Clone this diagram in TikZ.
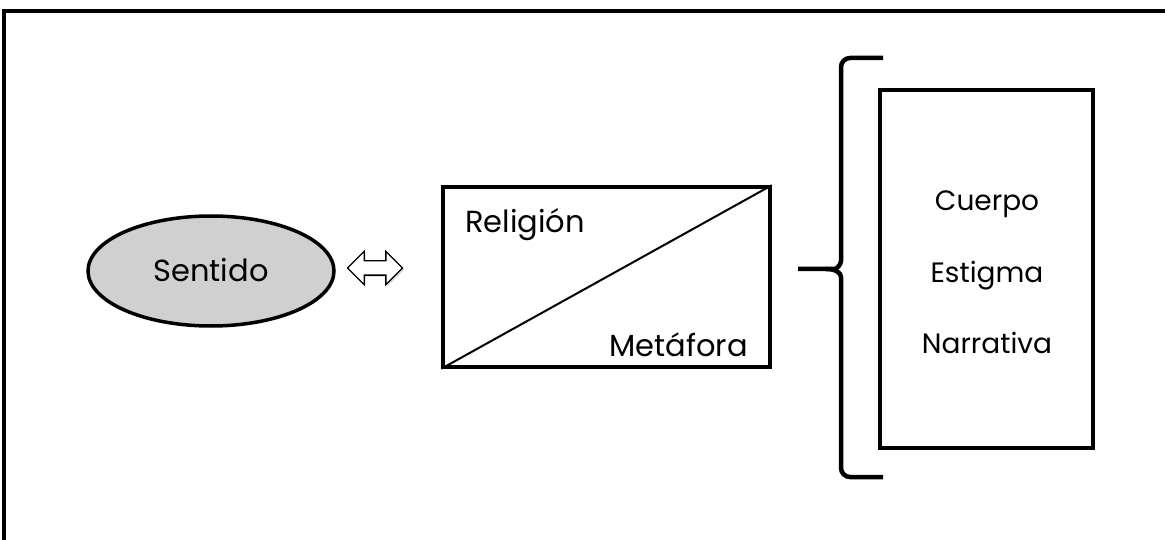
\documentclass[tikz,border=0pt]{standalone}
\usepackage{fontspec}
\setmainfont{Poppins}
\usetikzlibrary{shapes.geometric,shapes.arrows,shadows}
\definecolor{ellgray}{RGB}{208,208,208}
\tikzset{
  frameline/.style={line width=3.5pt},
  thickbox/.style={draw, line width=3.5pt, inner sep=0pt},
  lbl/.style={font=\fontsize{30.5}{33}\selectfont, inner sep=0pt},
  boxlbl/.style={font=\fontsize{28}{31}\selectfont, inner sep=0pt},
  bracketline/.style={line width=4.5pt, rounded corners=9pt},
}
\begin{document}
\begin{tikzpicture}[x=1pt,y=-1pt]
\useasboundingbox (0,0) rectangle (1165,540);
\fill[white] (0,0) rectangle (1165,540);
% partial outer frame
\coordinate (fBL) at (4,541);
\coordinate (fTL) at (4,11);
\coordinate (fTR) at (1166,11);
\draw[frameline] (fBL) -- (fTL) -- (fTR);
% ellipse
\node[ellipse, draw, line width=3.5pt, fill=ellgray, minimum width=246pt, minimum height=110pt, inner sep=0pt] (sent) at (211,271) {};
\node[lbl, anchor=base] (senttxt) at (211,282) {Sentido};
% double arrow
\node[double arrow, draw, line width=1.3pt, fill=white, minimum height=55pt, minimum width=32pt,
      inner xsep=0pt, inner ysep=6.5pt, double arrow head extend=9.5pt,
      drop shadow={opacity=0.35, shadow xshift=1.5pt, shadow yshift=-1.5pt}] (darr) at (375,268) {};
% diagonal rectangle
\node[thickbox, minimum width=327pt, minimum height=180pt] (rel) at (606.5,277) {};
\draw[line width=2pt] (rel.south west) -- (rel.north east);
\node[lbl, anchor=base west] (reltxt) at (465,233) {Religión};
\node[lbl, anchor=base east] (mettxt) at (748,356) {Metáfora};
% bracket
\coordinate (bTop) at (883,58);
\coordinate (bBot) at (883,477);
\coordinate (bTip) at (798,269);
\draw[bracketline] (bTop) -- (841,58) -- (841,252) .. controls (841,265) and (836,269) .. (826,269) -- (bTip);
\draw[bracketline] (bBot) -- (841,477) -- (841,286) .. controls (841,273) and (836,269) .. (826,269);
% right box
\node[thickbox, minimum width=213pt, minimum height=358pt] (list) at (986.5,269) {};
\node[boxlbl, anchor=base] (cuerpo) at (987,211) {Cuerpo};
\node[boxlbl, anchor=base] (estigma) at (987,283) {Estigma};
\node[boxlbl, anchor=base] (narr) at (987,353) {Narrativa};
\end{tikzpicture}
\end{document}
